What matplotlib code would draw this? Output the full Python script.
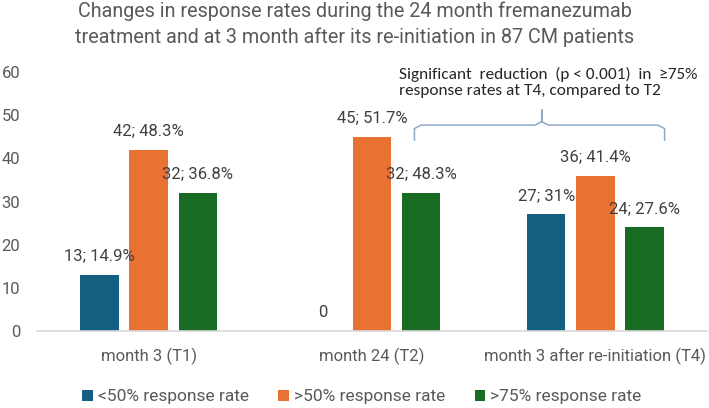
import numpy as np
import matplotlib
matplotlib.use("Agg")
import matplotlib.pyplot as plt
from matplotlib.patches import Patch

# données
categories = ["month 3 (T1)", "month 24 (T2)", "month 3 after re-initiation (T4)"]
series = ["<50% response rate", ">50% response rate", ">75% response rate"]
counts = {
    "<50% response rate": [13, 0, 27],
    ">50% response rate": [42, 45, 36],
    ">75% response rate": [32, 32, 24],
}
labels = {
    "<50% response rate": ["13; 14.9%", "0", "27; 31%"],
    ">50% response rate": ["42; 48.3%", "45; 51.7%", "36; 41.4%"],
    ">75% response rate": ["32; 36.8%", "32; 48.3%", "24; 27.6%"],
}
colors = ["#156082", "#E97132", "#196B24"]
yticks = [0, 10, 20, 30, 40, 50, 60]
titre = ["Changes in response rates during the 24 month fremanezumab",
         "treatment and at 3 month after its re-initiation in 87 CM patients"]

plt.rcParams["font.family"] = ["Roboto", "DejaVu Sans"]

fig = plt.figure(figsize=(7.09, 4.08), dpi=100)
ax = fig.add_axes([0.0522, 0.1887, 0.945, 0.6348])

x = np.arange(len(categories))
largeur = 0.172
pas = 0.22
for i, (nom, c) in enumerate(zip(series, colors)):
    pos = x + (i - 1) * pas
    vals = counts[nom]
    ax.bar(pos, vals, width=largeur, color=c)
    for p, v, lab in zip(pos, vals, labels[nom]):
        ax.text(p, v + 4.4, lab, ha="center", va="center",
                fontsize=12, color="#404040")

ax.set_xlim(-0.5, 2.5)
ax.set_ylim(0, 60)
ax.set_yticks(yticks)
ax.set_xticks(x)
ax.set_xticklabels(categories)
ax.tick_params(axis="both", length=0, labelsize=12, colors="#595959")
ax.tick_params(axis="x", pad=12)
ax.tick_params(axis="y", pad=12)
for s in ["top", "right", "left"]:
    ax.spines[s].set_visible(False)
ax.spines["bottom"].set_color("#D9D9D9")
ax.spines["bottom"].set_linewidth(1.2)

# titre
fig.text(0.5, 1 - 11 / 408, titre[0], ha="center", va="center",
         fontsize=14.2, color="#595959")
fig.text(0.5, 1 - 37 / 408, titre[1], ha="center", va="center",
         fontsize=14.2, color="#595959")

# accolade + annotation
x1, x2, xm = 1.19, 2.31, 1.76
yb, yh, yp = 44.2, 47.7, 51.2
r = 0.03
bx = [x1, x1, x1 + r, xm - r, xm, xm, xm, xm + r, x2 - r, x2, x2]
by = [yb, yh - 0.8, yh, yh, yh + 0.8, yp, yh + 0.8, yh, yh, yh - 0.8, yb]
ax.plot(bx, by, color="#8EA9C8", lw=1.1, clip_on=False)
ax.text(1.12, 57.6, "Significant  reduction  (p < 0.001)  in  \u226575%\n"
        "response rates at T4, compared to T2",
        ha="left", va="center", fontsize=12.4, color="#262626",
        family=["Carlito", "DejaVu Sans"], linespacing=1.15)

# légende
handles = [Patch(facecolor=c, label=n) for n, c in zip(series, colors)]
fig.legend(handles=handles, loc="center", bbox_to_anchor=(362 / 709, 1 - 397 / 408),
           ncol=3, frameon=False, fontsize=12.5, handlelength=0.6, handleheight=0.6,
           handletextpad=0.3, columnspacing=1.7, labelcolor="#595959")

fig.savefig("out.png", dpi=100)
